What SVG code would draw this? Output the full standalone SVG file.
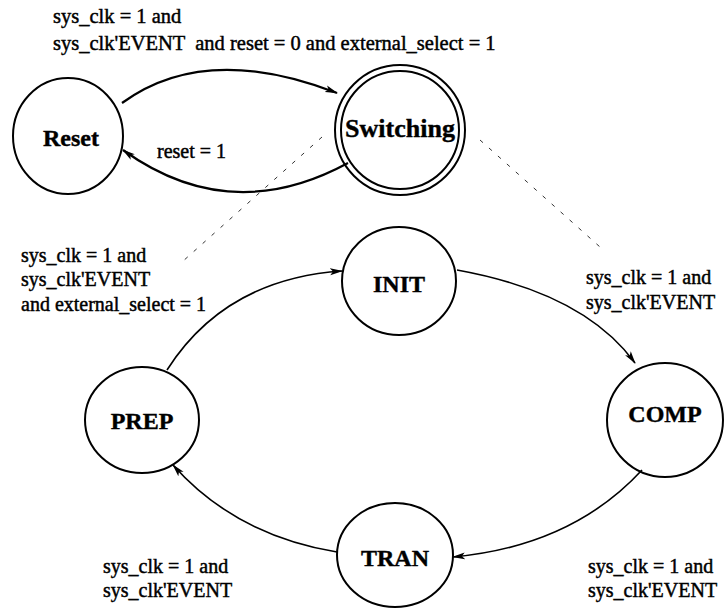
<svg xmlns="http://www.w3.org/2000/svg" width="724" height="608" viewBox="0 0 724 608">
<defs>
<style>
.st{fill:none;stroke:#000;stroke-width:2}
.lbl{font-weight:bold;font-size:24px;text-anchor:middle;fill:#000;stroke:#000;stroke-width:0.4}
.t{font-size:20px;fill:#000;stroke:#000;stroke-width:0.45}
.e{fill:none;stroke:#000;stroke-width:1.6}
.d{fill:none;stroke:#000;stroke-width:0.8;stroke-dasharray:4 8}
</style>
<marker id="ah" markerWidth="13" markerHeight="8" refX="12" refY="4" orient="auto" markerUnits="userSpaceOnUse">
<path d="M0,0.5 L13,4 L0,7.5 L3,4 Z" fill="#000"/>
</marker>
</defs>
<rect width="724" height="608" fill="#fff"/>
<g font-family="Liberation Serif, DejaVu Serif, serif">
<g id="reset"><ellipse class="st" cx="68" cy="136" rx="55" ry="58"/><text class="lbl" x="71" y="146">Reset</text></g>
<g id="switching"><circle class="st" cx="400" cy="130" r="65"/><circle class="st" cx="400" cy="130" r="59"/><text class="lbl" x="400" y="137" style="font-size:26px">Switching</text></g>
<g id="init"><ellipse class="st" cx="399" cy="281" rx="57" ry="54"/><text class="lbl" x="399" y="292">INIT</text></g>
<g id="prep"><ellipse class="st" cx="142" cy="420" rx="57" ry="53"/><text class="lbl" x="142" y="429">PREP</text></g>
<g id="comp"><ellipse class="st" cx="665" cy="420" rx="58" ry="57"/><text class="lbl" x="665" y="422">COMP</text></g>
<g id="tran"><ellipse class="st" cx="395" cy="555" rx="58" ry="52"/><text class="lbl" x="395" y="566">TRAN</text></g>
<g id="connectors">
<path class="e" d="M122,103 Q205,42 337,93" marker-end="url(#ah)" style="stroke-width:2.2"/>
<path class="e" d="M348,163 Q230,227 123,150" marker-end="url(#ah)" style="stroke-width:2.2"/>
<path class="e" d="M167,370 Q225,279 342,271" marker-end="url(#ah)"/>
<path class="e" d="M457,270 Q584,293 635,363" marker-end="url(#ah)"/>
<path class="e" d="M642,470 Q572,546 453,557" marker-end="url(#ah)"/>
<path class="e" d="M337,552 Q235,535 173,465" marker-end="url(#ah)"/>
<path class="d" d="M322,137 L182,262"/>
<path class="d" d="M480,140 L600,247"/>
</g>
<g id="labels">
<text class="t" x="53" y="23" style="font-size:20.5px">sys_clk = 1 and</text>
<text class="t" x="53" y="50" style="font-size:20.5px" xml:space="preserve">sys_clk'EVENT  and reset = 0 and external_select = 1</text>
<text class="t" x="157" y="158">reset = 1</text>
<text class="t" x="21" y="262">sys_clk = 1 and</text>
<text class="t" x="21" y="286">sys_clk'EVENT</text>
<text class="t" x="21" y="311">and external_select = 1</text>
<text class="t" x="586" y="284">sys_clk = 1 and</text>
<text class="t" x="586" y="309">sys_clk'EVENT</text>
<text class="t" x="103" y="573">sys_clk = 1 and</text>
<text class="t" x="103" y="597">sys_clk'EVENT</text>
<text class="t" x="588" y="573">sys_clk = 1 and</text>
<text class="t" x="588" y="597">sys_clk'EVENT</text>
</g>
</g>
</svg>
